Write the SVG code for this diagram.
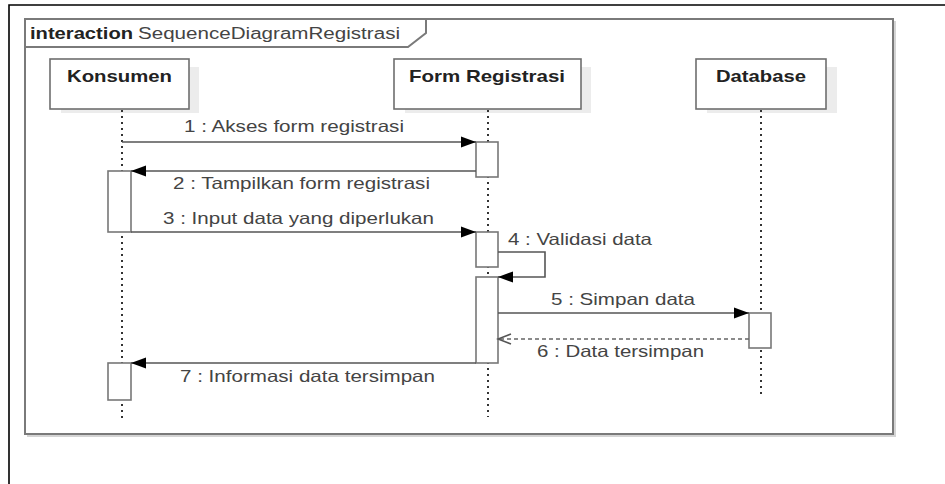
<svg xmlns="http://www.w3.org/2000/svg" width="945" height="484" viewBox="0 0 945 484">
  <defs>
    <style>
      .page { fill: none; stroke: #000; stroke-width: 1.6; }
      .frame { fill: none; stroke: #7a7a7a; stroke-width: 2; }
      .frameShadow { fill: none; stroke: #d4d4d4; stroke-width: 2; }
      .head { fill: #fff; stroke: #6e6e6e; stroke-width: 1.6; }
      .shadow { fill: #ececec; stroke: none; }
      .act { fill: #fff; stroke: #777; stroke-width: 1.6; }
      .life { stroke: #333; stroke-width: 2; stroke-dasharray: 2 4; fill: none; }
      .msg { stroke: #555; stroke-width: 1.6; fill: none; }
      .ret { stroke: #666; stroke-width: 1.6; fill: none; stroke-dasharray: 4 3; }
      .name { font-family: "Liberation Sans", Arial, sans-serif; font-weight: bold; font-size: 17px; fill: #222; }
      .lbl { font-family: "Liberation Sans", Arial, sans-serif; font-size: 16.5px; fill: #444; }
      .kw { font-family: "Liberation Sans", Arial, sans-serif; font-weight: bold; font-size: 16px; fill: #222; }
      .title { font-family: "Liberation Sans", Arial, sans-serif; font-size: 16px; fill: #444; }
    </style>
    <marker id="solid" markerWidth="16" markerHeight="12" refX="15" refY="6" orient="auto" markerUnits="userSpaceOnUse">
      <path d="M0,0.5 L15,6 L0,11.5 Z" fill="#000"/>
    </marker>
    <marker id="open" markerWidth="16" markerHeight="12" refX="14" refY="6" orient="auto" markerUnits="userSpaceOnUse">
      <path d="M1,1 L14,6 L1,11" fill="none" stroke="#555" stroke-width="1.5"/>
    </marker>
  </defs>

  <rect width="945" height="484" fill="#fff"/>

  <!-- page border -->
  <path class="page" d="M9,484 L9,5 L945,5"/>

  <!-- interaction frame -->
  <g id="frame">
    <path class="frameShadow" d="M27,436 L895,436 L895,21"/>
    <rect class="frame" x="25" y="19" width="868" height="415"/>
    <path class="frame" d="M25,47 L408,47 L426,33 L426,19"/>
    <text x="30" y="39" class="kw" textLength="103" lengthAdjust="spacingAndGlyphs">interaction</text>
    <text x="138" y="39" class="title" textLength="262" lengthAdjust="spacingAndGlyphs">SequenceDiagramRegistrasi</text>
  </g>

  <!-- lifeline: Konsumen -->
  <g id="konsumen">
    <rect class="shadow" x="61" y="67" width="138" height="46"/>
    <rect class="head" x="50" y="59" width="139" height="50"/>
    <text x="67" y="82" class="name" textLength="105" lengthAdjust="spacingAndGlyphs">Konsumen</text>
    <line class="life" x1="122" y1="110" x2="122" y2="418"/>
    <rect class="act" x="108" y="171" width="23" height="61"/>
    <rect class="act" x="108" y="363" width="23" height="37"/>
  </g>

  <!-- lifeline: Form Registrasi -->
  <g id="form-registrasi">
    <rect class="shadow" x="405" y="67" width="186" height="46"/>
    <rect class="head" x="394" y="59" width="187" height="50"/>
    <text x="409" y="82" class="name" textLength="156" lengthAdjust="spacingAndGlyphs">Form Registrasi</text>
    <line class="life" x1="488" y1="110" x2="488" y2="417"/>
    <rect class="act" x="476" y="142" width="22" height="35"/>
    <rect class="act" x="476" y="232" width="22" height="35"/>
    <rect class="act" x="476" y="277" width="22" height="86"/>
  </g>

  <!-- lifeline: Database -->
  <g id="database">
    <rect class="shadow" x="707" y="67" width="130" height="46"/>
    <rect class="head" x="696" y="59" width="130" height="50"/>
    <text x="716" y="82" class="name" textLength="90" lengthAdjust="spacingAndGlyphs">Database</text>
    <line class="life" x1="761" y1="110" x2="761" y2="394"/>
    <rect class="act" x="749" y="313" width="22" height="35"/>
  </g>

  <!-- messages -->
  <g id="messages">
    <line class="msg" x1="122" y1="142" x2="476" y2="142" marker-end="url(#solid)"/>
    <text x="184" y="132" class="lbl" textLength="220" lengthAdjust="spacingAndGlyphs">1 : Akses form registrasi</text>

    <line class="msg" x1="476" y1="171" x2="131" y2="171" marker-end="url(#solid)"/>
    <text x="173" y="189" class="lbl" textLength="257" lengthAdjust="spacingAndGlyphs">2 : Tampilkan form registrasi</text>

    <line class="msg" x1="131" y1="232" x2="476" y2="232" marker-end="url(#solid)"/>
    <text x="163" y="224" class="lbl" textLength="271" lengthAdjust="spacingAndGlyphs">3 : Input data yang diperlukan</text>

    <path class="msg" d="M498,252 L545,252 L545,277 L498,277" marker-end="url(#solid)"/>
    <text x="508" y="245" class="lbl" textLength="144" lengthAdjust="spacingAndGlyphs">4 : Validasi data</text>

    <line class="msg" x1="498" y1="313" x2="749" y2="313" marker-end="url(#solid)"/>
    <text x="551" y="305" class="lbl" textLength="144" lengthAdjust="spacingAndGlyphs">5 : Simpan data</text>

    <line class="ret" x1="749" y1="339" x2="498" y2="339" marker-end="url(#open)"/>
    <text x="537" y="357" class="lbl" textLength="167" lengthAdjust="spacingAndGlyphs">6 : Data tersimpan</text>

    <line class="msg" x1="476" y1="363" x2="131" y2="363" marker-end="url(#solid)"/>
    <text x="180" y="382" class="lbl" textLength="255" lengthAdjust="spacingAndGlyphs">7 : Informasi data tersimpan</text>
  </g>
</svg>
